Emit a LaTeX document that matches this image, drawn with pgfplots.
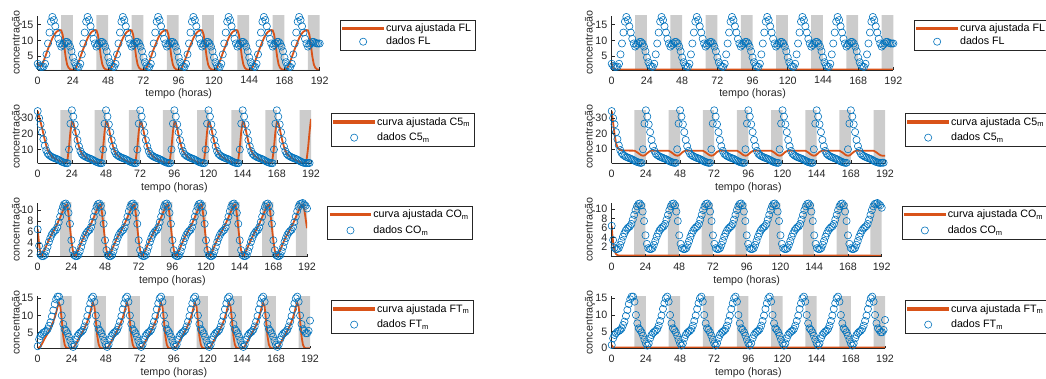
\documentclass[border=0pt]{standalone}
\usepackage{fontspec}
\setmainfont{Liberation Sans}
\usepackage{pgfplots}
\usepackage{pgfplotstable}
\pgfplotsset{compat=1.18}

\definecolor{fitorange}{rgb}{0.85,0.325,0.098}
\definecolor{datablue}{rgb}{0,0.447,0.741}
\definecolor{nightgray}{rgb}{0.8,0.8,0.8}
\definecolor{axisgray}{rgb}{0.15,0.15,0.15}
\newcommand{\lbl}{\fontsize{10.7}{12.8}\selectfont}

% hourly series, t = 0,1,2,... h (one day per line)
\pgfplotstableread[row sep=\\, header=false]{
2.5\\1.8\\1.5\\1.5\\1.6\\2.5\\5.5\\9.0\\12.5\\16.0\\17.5\\16.5\\14.5\\12.5\\10.5\\9.0\\8.0\\8.5\\9.0\\9.5\\9.5\\9.0\\8.0\\6.5\\
4.5\\3.0\\2.0\\1.6\\1.5\\2.5\\5.5\\9.0\\12.5\\16.0\\17.5\\16.5\\14.5\\12.5\\10.5\\9.0\\8.0\\8.5\\9.0\\9.5\\9.5\\9.0\\8.0\\6.5\\
4.5\\3.0\\2.0\\1.6\\1.5\\2.5\\5.5\\9.0\\12.5\\16.0\\17.5\\16.5\\14.5\\12.5\\10.5\\9.0\\8.0\\8.5\\9.0\\9.5\\9.5\\9.0\\8.0\\6.5\\
4.5\\3.0\\2.0\\1.6\\1.5\\2.5\\5.5\\9.0\\12.5\\16.0\\17.5\\16.5\\14.5\\12.5\\10.5\\9.0\\8.0\\8.5\\9.0\\9.5\\9.5\\9.0\\8.0\\6.5\\
4.5\\3.0\\2.0\\1.6\\1.5\\2.5\\5.5\\9.0\\12.5\\16.0\\17.5\\16.5\\14.5\\12.5\\10.5\\9.0\\8.0\\8.5\\9.0\\9.5\\9.5\\9.0\\8.0\\6.5\\
4.5\\3.0\\2.0\\1.6\\1.5\\2.5\\5.5\\9.0\\12.5\\16.0\\17.5\\16.5\\14.5\\12.5\\10.5\\9.0\\8.0\\8.5\\9.0\\9.5\\9.5\\9.0\\8.0\\6.5\\
4.5\\3.0\\2.0\\1.6\\1.5\\2.5\\5.5\\9.0\\12.5\\16.0\\17.5\\16.5\\14.5\\12.5\\10.5\\9.0\\8.0\\8.5\\9.0\\9.5\\9.5\\9.0\\8.0\\6.5\\
4.5\\3.0\\2.0\\1.6\\1.5\\2.5\\5.5\\9.0\\12.5\\16.0\\17.5\\16.5\\14.5\\12.5\\10.5\\9.0\\8.0\\8.5\\9.0\\9.5\\9.5\\9.2\\9.0\\9.0\\
9.0\\
}\FLdata

\pgfplotstableread[row sep=\\, header=false]{
2.5\\1.9\\1.7\\2.3\\3.3\\4.6\\5.9\\7.2\\8.4\\9.6\\10.7\\11.6\\12.3\\12.8\\13.1\\13.3\\13.2\\11.8\\8.5\\4.8\\2.3\\1.2\\0.8\\0.6\\
0.6\\0.7\\1.2\\2.2\\3.3\\4.6\\5.9\\7.2\\8.4\\9.6\\10.7\\11.6\\12.3\\12.8\\13.1\\13.3\\13.2\\11.8\\8.5\\4.8\\2.3\\1.2\\0.8\\0.6\\
0.6\\0.7\\1.2\\2.2\\3.3\\4.6\\5.9\\7.2\\8.4\\9.6\\10.7\\11.6\\12.3\\12.8\\13.1\\13.3\\13.2\\11.8\\8.5\\4.8\\2.3\\1.2\\0.8\\0.6\\
0.6\\0.7\\1.2\\2.2\\3.3\\4.6\\5.9\\7.2\\8.4\\9.6\\10.7\\11.6\\12.3\\12.8\\13.1\\13.3\\13.2\\11.8\\8.5\\4.8\\2.3\\1.2\\0.8\\0.6\\
0.6\\0.7\\1.2\\2.2\\3.3\\4.6\\5.9\\7.2\\8.4\\9.6\\10.7\\11.6\\12.3\\12.8\\13.1\\13.3\\13.2\\11.8\\8.5\\4.8\\2.3\\1.2\\0.8\\0.6\\
0.6\\0.7\\1.2\\2.2\\3.3\\4.6\\5.9\\7.2\\8.4\\9.6\\10.7\\11.6\\12.3\\12.8\\13.1\\13.3\\13.2\\11.8\\8.5\\4.8\\2.3\\1.2\\0.8\\0.6\\
0.6\\0.7\\1.2\\2.2\\3.3\\4.6\\5.9\\7.2\\8.4\\9.6\\10.7\\11.6\\12.3\\12.8\\13.1\\13.3\\13.2\\11.8\\8.5\\4.8\\2.3\\1.2\\0.8\\0.6\\
0.6\\0.7\\1.2\\2.2\\3.3\\4.6\\5.9\\7.2\\8.4\\9.6\\10.7\\11.6\\12.3\\12.8\\13.1\\13.3\\13.2\\11.8\\8.5\\4.8\\2.3\\1.2\\0.8\\0.6\\
0.6\\
}\FLfit

\pgfplotstableread[row sep=\\, header=false]{
34.5\\30.0\\26.0\\21.0\\16.5\\12.5\\9.5\\7.5\\6.5\\5.8\\5.2\\4.8\\4.4\\4.1\\3.7\\3.2\\2.7\\2.2\\1.8\\1.5\\1.3\\1.3\\10.0\\26.5\\
35.0\\31.0\\26.0\\21.0\\16.0\\12.0\\9.0\\7.2\\6.3\\5.7\\5.2\\4.8\\4.4\\4.1\\3.7\\3.2\\2.7\\2.2\\1.8\\1.5\\1.3\\1.3\\10.0\\26.5\\
35.0\\31.0\\26.0\\21.0\\16.0\\12.0\\9.0\\7.2\\6.3\\5.7\\5.2\\4.8\\4.4\\4.1\\3.7\\3.2\\2.7\\2.2\\1.8\\1.5\\1.3\\1.3\\10.0\\26.5\\
35.0\\31.0\\26.0\\21.0\\16.0\\12.0\\9.0\\7.2\\6.3\\5.7\\5.2\\4.8\\4.4\\4.1\\3.7\\3.2\\2.7\\2.2\\1.8\\1.5\\1.3\\1.3\\10.0\\26.5\\
35.0\\31.0\\26.0\\21.0\\16.0\\12.0\\9.0\\7.2\\6.3\\5.7\\5.2\\4.8\\4.4\\4.1\\3.7\\3.2\\2.7\\2.2\\1.8\\1.5\\1.3\\1.3\\10.0\\26.5\\
35.0\\31.0\\26.0\\21.0\\16.0\\12.0\\9.0\\7.2\\6.3\\5.7\\5.2\\4.8\\4.4\\4.1\\3.7\\3.2\\2.7\\2.2\\1.8\\1.5\\1.3\\1.3\\10.0\\26.5\\
35.0\\31.0\\26.0\\21.0\\16.0\\12.0\\9.0\\7.2\\6.3\\5.7\\5.2\\4.8\\4.4\\4.1\\3.7\\3.2\\2.7\\2.2\\1.8\\1.5\\1.3\\1.3\\10.0\\26.5\\
35.0\\31.0\\26.0\\21.0\\16.0\\12.0\\9.0\\7.2\\6.3\\5.7\\5.2\\4.8\\4.4\\4.1\\3.7\\3.2\\2.7\\2.2\\1.8\\1.5\\1.3\\1.3\\1.4\\1.4\\
}\CFdata

\pgfplotstableread[row sep=\\, header=false]{
34.5\\31.0\\27.5\\24.0\\20.0\\16.0\\12.5\\9.8\\7.8\\6.6\\5.6\\4.9\\4.3\\3.8\\3.3\\2.9\\2.5\\2.1\\1.8\\1.5\\1.3\\4.0\\11.5\\21.5\\
27.5\\27.0\\23.5\\19.0\\15.0\\11.8\\9.3\\7.6\\6.4\\5.6\\4.9\\4.3\\3.8\\3.3\\2.9\\2.5\\2.1\\1.8\\1.5\\1.3\\1.2\\4.0\\11.5\\21.5\\
27.5\\27.0\\23.5\\19.0\\15.0\\11.8\\9.3\\7.6\\6.4\\5.6\\4.9\\4.3\\3.8\\3.3\\2.9\\2.5\\2.1\\1.8\\1.5\\1.3\\1.2\\4.0\\11.5\\21.5\\
27.5\\27.0\\23.5\\19.0\\15.0\\11.8\\9.3\\7.6\\6.4\\5.6\\4.9\\4.3\\3.8\\3.3\\2.9\\2.5\\2.1\\1.8\\1.5\\1.3\\1.2\\4.0\\11.5\\21.5\\
27.5\\27.0\\23.5\\19.0\\15.0\\11.8\\9.3\\7.6\\6.4\\5.6\\4.9\\4.3\\3.8\\3.3\\2.9\\2.5\\2.1\\1.8\\1.5\\1.3\\1.2\\4.0\\11.5\\21.5\\
27.5\\27.0\\23.5\\19.0\\15.0\\11.8\\9.3\\7.6\\6.4\\5.6\\4.9\\4.3\\3.8\\3.3\\2.9\\2.5\\2.1\\1.8\\1.5\\1.3\\1.2\\4.0\\11.5\\21.5\\
27.5\\27.0\\23.5\\19.0\\15.0\\11.8\\9.3\\7.6\\6.4\\5.6\\4.9\\4.3\\3.8\\3.3\\2.9\\2.5\\2.1\\1.8\\1.5\\1.3\\1.2\\4.0\\11.5\\21.5\\
27.5\\27.0\\23.5\\19.0\\15.0\\11.8\\9.3\\7.6\\6.4\\5.6\\4.9\\4.3\\3.8\\3.3\\2.9\\2.5\\2.1\\1.8\\1.5\\1.3\\1.2\\4.0\\11.5\\21.5\\
29.5\\
}\CFfit

\pgfplotstableread[row sep=\\, header=false]{
6.5\\3.5\\1.9\\1.6\\1.6\\1.8\\2.5\\3.3\\4.2\\4.9\\5.5\\5.9\\6.2\\6.4\\6.9\\7.8\\8.8\\9.8\\10.6\\11.1\\11.2\\10.8\\9.5\\7.5\\
4.5\\2.7\\1.8\\1.6\\1.6\\1.8\\2.5\\3.3\\4.2\\4.9\\5.5\\5.9\\6.2\\6.4\\6.9\\7.8\\8.8\\9.8\\10.6\\11.1\\11.2\\10.8\\9.5\\7.5\\
4.5\\2.7\\1.8\\1.6\\1.6\\1.8\\2.5\\3.3\\4.2\\4.9\\5.5\\5.9\\6.2\\6.4\\6.9\\7.8\\8.8\\9.8\\10.6\\11.1\\11.2\\10.8\\9.5\\7.5\\
4.5\\2.7\\1.8\\1.6\\1.6\\1.8\\2.5\\3.3\\4.2\\4.9\\5.5\\5.9\\6.2\\6.4\\6.9\\7.8\\8.8\\9.8\\10.6\\11.1\\11.2\\10.8\\9.5\\7.5\\
4.5\\2.7\\1.8\\1.6\\1.6\\1.8\\2.5\\3.3\\4.2\\4.9\\5.5\\5.9\\6.2\\6.4\\6.9\\7.8\\8.8\\9.8\\10.6\\11.1\\11.2\\10.8\\9.5\\7.5\\
4.5\\2.7\\1.8\\1.6\\1.6\\1.8\\2.5\\3.3\\4.2\\4.9\\5.5\\5.9\\6.2\\6.4\\6.9\\7.8\\8.8\\9.8\\10.6\\11.1\\11.2\\10.8\\9.5\\7.5\\
4.5\\2.7\\1.8\\1.6\\1.6\\1.8\\2.5\\3.3\\4.2\\4.9\\5.5\\5.9\\6.2\\6.4\\6.9\\7.8\\8.8\\9.8\\10.6\\11.1\\11.2\\10.8\\9.5\\7.5\\
4.5\\2.7\\1.8\\1.6\\1.6\\1.8\\2.5\\3.3\\4.2\\4.9\\5.5\\5.9\\6.2\\6.4\\6.9\\7.8\\8.8\\9.8\\10.6\\11.1\\11.2\\11.3\\11.0\\10.8\\
10.3\\
}\COdata

\pgfplotstableread[row sep=\\, header=false]{
6.5\\3.8\\2.0\\1.7\\2.2\\2.8\\3.4\\4.0\\4.6\\5.1\\5.6\\6.0\\6.5\\7.0\\7.5\\8.1\\8.7\\9.3\\9.9\\10.5\\10.9\\11.0\\9.2\\6.8\\
4.5\\2.7\\1.8\\1.7\\2.2\\2.8\\3.4\\4.0\\4.6\\5.1\\5.6\\6.0\\6.5\\7.0\\7.5\\8.1\\8.7\\9.3\\9.9\\10.5\\10.9\\11.0\\9.2\\6.8\\
4.5\\2.7\\1.8\\1.7\\2.2\\2.8\\3.4\\4.0\\4.6\\5.1\\5.6\\6.0\\6.5\\7.0\\7.5\\8.1\\8.7\\9.3\\9.9\\10.5\\10.9\\11.0\\9.2\\6.8\\
4.5\\2.7\\1.8\\1.7\\2.2\\2.8\\3.4\\4.0\\4.6\\5.1\\5.6\\6.0\\6.5\\7.0\\7.5\\8.1\\8.7\\9.3\\9.9\\10.5\\10.9\\11.0\\9.2\\6.8\\
4.5\\2.7\\1.8\\1.7\\2.2\\2.8\\3.4\\4.0\\4.6\\5.1\\5.6\\6.0\\6.5\\7.0\\7.5\\8.1\\8.7\\9.3\\9.9\\10.5\\10.9\\11.0\\9.2\\6.8\\
4.5\\2.7\\1.8\\1.7\\2.2\\2.8\\3.4\\4.0\\4.6\\5.1\\5.6\\6.0\\6.5\\7.0\\7.5\\8.1\\8.7\\9.3\\9.9\\10.5\\10.9\\11.0\\9.2\\6.8\\
4.5\\2.7\\1.8\\1.7\\2.2\\2.8\\3.4\\4.0\\4.6\\5.1\\5.6\\6.0\\6.5\\7.0\\7.5\\8.1\\8.7\\9.3\\9.9\\10.5\\10.9\\11.0\\9.2\\6.8\\
4.5\\2.7\\1.8\\1.7\\2.2\\2.8\\3.4\\4.0\\4.6\\5.1\\5.6\\6.0\\6.5\\7.0\\7.5\\8.1\\8.7\\9.3\\9.9\\10.5\\10.9\\11.0\\10.2\\8.5\\
6.7\\
}\COfit

\pgfplotstableread[row sep=\\, header=false]{
1.0\\3.0\\4.0\\4.5\\5.0\\5.2\\5.5\\6.0\\7.0\\8.0\\9.7\\11.5\\13.3\\14.7\\15.5\\15.5\\14.0\\10.0\\7.5\\6.0\\5.5\\4.8\\3.8\\2.6\\
1.5\\0.8\\1.5\\3.0\\4.0\\4.6\\5.0\\5.3\\5.8\\6.8\\8.2\\9.8\\11.8\\13.5\\15.0\\15.5\\14.0\\10.0\\7.5\\6.0\\5.5\\4.8\\3.8\\2.6\\
1.5\\0.8\\1.5\\3.0\\4.0\\4.6\\5.0\\5.3\\5.8\\6.8\\8.2\\9.8\\11.8\\13.5\\15.0\\15.5\\14.0\\10.0\\7.5\\6.0\\5.5\\4.8\\3.8\\2.6\\
1.5\\0.8\\1.5\\3.0\\4.0\\4.6\\5.0\\5.3\\5.8\\6.8\\8.2\\9.8\\11.8\\13.5\\15.0\\15.5\\14.0\\10.0\\7.5\\6.0\\5.5\\4.8\\3.8\\2.6\\
1.5\\0.8\\1.5\\3.0\\4.0\\4.6\\5.0\\5.3\\5.8\\6.8\\8.2\\9.8\\11.8\\13.5\\15.0\\15.5\\14.0\\10.0\\7.5\\6.0\\5.5\\4.8\\3.8\\2.6\\
1.5\\0.8\\1.5\\3.0\\4.0\\4.6\\5.0\\5.3\\5.8\\6.8\\8.2\\9.8\\11.8\\13.5\\15.0\\15.5\\14.0\\10.0\\7.5\\6.0\\5.5\\4.8\\3.8\\2.6\\
1.5\\0.8\\1.5\\3.0\\4.0\\4.6\\5.0\\5.3\\5.8\\6.8\\8.2\\9.8\\11.8\\13.5\\15.0\\15.5\\14.0\\10.0\\7.5\\6.0\\5.5\\4.8\\3.8\\2.6\\
1.5\\0.8\\1.5\\3.0\\4.0\\4.6\\5.0\\5.3\\5.8\\6.8\\8.2\\9.8\\11.8\\13.5\\15.0\\15.5\\14.0\\10.0\\7.5\\6.0\\5.5\\4.8\\4.8\\5.5\\
8.5\\
}\FTdata

\pgfplotstableread[row sep=\\, header=false]{
0.5\\0.6\\1.0\\1.7\\2.5\\3.3\\4.0\\4.7\\5.5\\6.3\\7.2\\8.2\\9.4\\10.8\\12.5\\13.7\\12.5\\8.5\\4.0\\1.5\\0.6\\0.4\\0.4\\0.4\\
0.4\\0.5\\1.0\\1.7\\2.5\\3.3\\4.0\\4.7\\5.5\\6.3\\7.2\\8.2\\9.4\\10.8\\12.5\\13.7\\12.5\\8.5\\4.0\\1.5\\0.6\\0.4\\0.4\\0.4\\
0.4\\0.5\\1.0\\1.7\\2.5\\3.3\\4.0\\4.7\\5.5\\6.3\\7.2\\8.2\\9.4\\10.8\\12.5\\13.7\\12.5\\8.5\\4.0\\1.5\\0.6\\0.4\\0.4\\0.4\\
0.4\\0.5\\1.0\\1.7\\2.5\\3.3\\4.0\\4.7\\5.5\\6.3\\7.2\\8.2\\9.4\\10.8\\12.5\\13.7\\12.5\\8.5\\4.0\\1.5\\0.6\\0.4\\0.4\\0.4\\
0.4\\0.5\\1.0\\1.7\\2.5\\3.3\\4.0\\4.7\\5.5\\6.3\\7.2\\8.2\\9.4\\10.8\\12.5\\13.7\\12.5\\8.5\\4.0\\1.5\\0.6\\0.4\\0.4\\0.4\\
0.4\\0.5\\1.0\\1.7\\2.5\\3.3\\4.0\\4.7\\5.5\\6.3\\7.2\\8.2\\9.4\\10.8\\12.5\\13.7\\12.5\\8.5\\4.0\\1.5\\0.6\\0.4\\0.4\\0.4\\
0.4\\0.5\\1.0\\1.7\\2.5\\3.3\\4.0\\4.7\\5.5\\6.3\\7.2\\8.2\\9.4\\10.8\\12.5\\13.7\\12.5\\8.5\\4.0\\1.5\\0.6\\0.4\\0.4\\0.4\\
0.4\\0.5\\1.0\\1.7\\2.5\\3.3\\4.0\\4.7\\5.5\\6.3\\7.2\\8.2\\9.4\\10.8\\12.5\\13.7\\12.5\\8.5\\4.0\\1.5\\0.6\\0.4\\0.4\\0.4\\
0.4\\
}\FTfit

\pgfplotsset{
  panel/.style={
    scale only axis, anchor=south west,
    xmin=0, xmax=192,
    axis lines=left,
    axis line style={-, draw=axisgray, line width=0.6pt},
    axis on top,
    tick align=inside, major tick length=2.8pt,
    tick style={draw=axisgray, line width=0.6pt},
    xtick={0,24,...,192},
    font=\lbl,
    ticklabel style={font=\lbl, text=axisgray},
    /pgf/number format/assume math mode=true,
    xticklabel style={yshift=-3pt},
    yticklabel style={xshift=-0.8pt},
    xlabel={tempo (horas)}, ylabel={concentração},
    xlabel style={at={(axis description cs:0.5,0)}, anchor=center, yshift=-24pt, text=axisgray},
    ylabel style={anchor=center, text=axisgray},
    legend cell align=left,
    legend image code/.code={\draw[mark repeat=2,mark phase=2,##1] plot coordinates {(0pt,0pt) (20pt,0pt) (40pt,0pt)};},
    legend style={anchor=north west, draw=axisgray, fill=white, line width=0.5pt,
      font=\lbl, inner xsep=2pt, inner ysep=1.8pt, row sep=0pt,
      nodes={inner sep=2pt}},
  },
  subleg/.style={legend style={row sep=2.5pt}},
  night/.style={const plot, fill=nightgray, draw=none, forget plot},
  fitline/.style={color=fitorange, line width=1.8pt, no marks,
    legend image code/.code={\fill[fitorange] (0pt,-0.8pt) rectangle (40pt,0.8pt);}},
  datamarks/.style={only marks, mark=o, color=datablue, mark size=3.6pt,
    mark options={line width=0.6pt}},
}

% dark periods of each day, 16 h to 24 h
\newcommand{\nights}{\addplot[night] coordinates {(0,0) (16,100) (24,0) (40,100) (48,0) (64,100) (72,0) (88,100) (96,0) (112,100) (120,0) (136,100) (144,0) (160,100) (168,0) (184,100) (192,100)} \closedcycle;}

\begin{document}
\begin{tikzpicture}
\useasboundingbox (0,0) rectangle (1046pt,378pt);
\clip (0,0) rectangle (1046pt,378pt);

% ---------------- left column: full model ----------------
\begin{axis}[panel, at={(37.7pt,308pt)}, width=282pt, height=54.3pt,
  ymin=0.5, ymax=17.9, ytick={5,10,15},
  ylabel style={at={(axis description cs:-0.0734,0.5)}},
  legend style={at={(1.072,0.925)}}]
\nights
\addplot[fitline] table[x expr=\coordindex, y index=0] {\FLfit};
\addplot[datamarks] table[x expr=\coordindex, y index=0] {\FLdata};
\legend{curva ajustada FL, dados FL}
\end{axis}

\begin{axis}[panel, subleg, at={(37.7pt,214.7pt)}, width=273.3pt, height=53pt,
  ymin=1.2, ymax=35, ytick={10,20,30},
  ylabel style={at={(axis description cs:-0.0757,0.5)}},
  legend style={at={(1.0732,0.945)}}]
\nights
\addplot[fitline] table[x expr=\coordindex, y index=0] {\CFfit};
\addplot[datamarks] table[x expr=\coordindex, y index=0] {\CFdata};
\legend{curva ajustada C5\textsubscript{m}, dados C5\textsubscript{m}}
\end{axis}

\begin{axis}[panel, subleg, at={(37.7pt,121.3pt)}, width=269.3pt, height=53.7pt,
  ymin=1.5, ymax=11.3, ytick={2,4,6,8,10},
  ylabel style={at={(axis description cs:-0.0769,0.5)}},
  legend style={at={(1.0754,0.944)}}]
\nights
\addplot[fitline] table[x expr=\coordindex, y index=0] {\COfit};
\addplot[datamarks] table[x expr=\coordindex, y index=0] {\COdata};
\legend{curva ajustada CO\textsubscript{m}, dados CO\textsubscript{m}}
\end{axis}

\begin{axis}[panel, subleg, at={(37.7pt,29.7pt)}, width=272.3pt, height=52pt,
  ymin=0.4, ymax=15.6, ytick={5,10,15},
  ylabel style={at={(axis description cs:-0.076,0.5)}},
  legend style={at={(1.0771,0.925)}}]
\nights
\addplot[fitline] table[x expr=\coordindex, y index=0] {\FTfit};
\addplot[datamarks] table[x expr=\coordindex, y index=0] {\FTdata};
\legend{curva ajustada FT\textsubscript{m}, dados FT\textsubscript{m}}
\end{axis}

% ---------------- right column: reduced model ----------------
\begin{axis}[panel, at={(611.7pt,308pt)}, width=281.7pt, height=54.3pt,
  ymin=0.5, ymax=17.9, ytick={5,10,15},
  ylabel style={at={(axis description cs:-0.077,0.5)}},
  legend style={at={(1.0731,0.925)}}]
\nights
\addplot[fitline] coordinates {(0,2.6) (0.5,1.6) (1,1.0) (2,0.75) (3,0.65) (192,0.65)};
\addplot[datamarks] table[x expr=\coordindex, y index=0] {\FLdata};
\legend{curva ajustada FL, dados FL}
\end{axis}

\begin{axis}[panel, subleg, at={(611.7pt,214.7pt)}, width=273.3pt, height=53pt,
  ymin=1.0, ymax=35, ytick={10,20,30},
  ylabel style={at={(axis description cs:-0.0794,0.5)}},
  legend style={at={(1.0732,0.945)}}]
\nights
\addplot[fitline] coordinates {
  (0,34.5) (1,27) (2,19.5) (3,14) (4,11.3) (5,10.2) (6,9.6) (8,9.2)
  (16,9.1) (18,8.0) (20,6.6) (21,6.1) (22,5.9) (23,6.0) (24,6.6) (25,7.5) (26,8.3) (27,8.8) (28,9.1)
  (40,9.1) (42,8.0) (44,6.6) (45,6.1) (46,5.9) (47,6.0) (48,6.6) (49,7.5) (50,8.3) (51,8.8) (52,9.1)
  (64,9.1) (66,8.0) (68,6.6) (69,6.1) (70,5.9) (71,6.0) (72,6.6) (73,7.5) (74,8.3) (75,8.8) (76,9.1)
  (88,9.1) (90,8.0) (92,6.6) (93,6.1) (94,5.9) (95,6.0) (96,6.6) (97,7.5) (98,8.3) (99,8.8) (100,9.1)
  (112,9.1) (114,8.0) (116,6.6) (117,6.1) (118,5.9) (119,6.0) (120,6.6) (121,7.5) (122,8.3) (123,8.8) (124,9.1)
  (136,9.1) (138,8.0) (140,6.6) (141,6.1) (142,5.9) (143,6.0) (144,6.6) (145,7.5) (146,8.3) (147,8.8) (148,9.1)
  (160,9.1) (162,8.0) (164,6.6) (165,6.1) (166,5.9) (167,6.0) (168,6.6) (169,7.5) (170,8.3) (171,8.8) (172,9.1)
  (184,9.1) (186,8.0) (188,6.6) (189,6.1) (190,5.9) (192,5.9)};
\addplot[datamarks] table[x expr=\coordindex, y index=0] {\CFdata};
\legend{curva ajustada C5\textsubscript{m}, dados C5\textsubscript{m}}
\end{axis}

\begin{axis}[panel, subleg, at={(611.7pt,121.3pt)}, width=270pt, height=53.7pt,
  ymin=0, ymax=11.3, ytick={2,4,6,8,10},
  ylabel style={at={(axis description cs:-0.0804,0.5)}},
  legend style={at={(1.0741,0.944)}}]
\nights
\addplot[fitline] coordinates {(0,6.5) (0.5,4.5) (1,3.0) (1.5,2.0) (2,1.3) (3,0.6) (4,0.35) (5,0.25) (192,0.22)};
\addplot[datamarks] table[x expr=\coordindex, y index=0] {\COdata};
\legend{curva ajustada CO\textsubscript{m}, dados CO\textsubscript{m}}
\end{axis}

\begin{axis}[panel, subleg, at={(611.7pt,29.7pt)}, width=273.3pt, height=52pt,
  ymin=0, ymax=15.6, ytick={0,5,10,15},
  ylabel style={at={(axis description cs:-0.0794,0.5)}},
  legend style={at={(1.0732,0.925)}}]
\nights
\addplot[fitline] coordinates {(0,1.0) (0.5,0.5) (1,0.3) (2,0.25) (192,0.25)};
\addplot[datamarks] table[x expr=\coordindex, y index=0] {\FTdata};
\legend{curva ajustada FT\textsubscript{m}, dados FT\textsubscript{m}}
\end{axis}
\end{tikzpicture}
\end{document}
